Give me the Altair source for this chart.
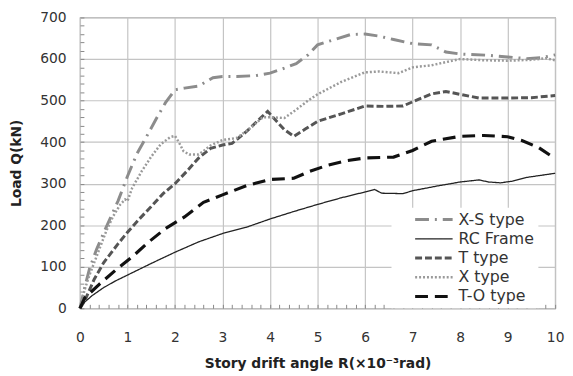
import altair as alt
import pandas as pd

series_names = ["X-S type", "RC Frame", "T type", "X type", "T-O type"]

xs_x = [0, 0.1, 0.2, 0.35, 0.5, 0.8, 1.0, 1.2, 1.4, 1.6, 1.8, 2.0, 2.2, 2.5, 2.8, 3.0, 3.3, 3.7, 4.0, 4.3, 4.55, 4.8, 5.0, 5.3, 5.7, 6.0, 6.3, 6.6, 7.0, 7.4, 7.7, 8.0, 8.6, 9.0, 9.4, 9.7, 10.0]
xs_y = [0, 50, 95, 142, 182, 258, 318, 372, 413, 455, 495, 526, 530, 535, 555, 558, 558, 560, 566, 578, 589, 610, 634, 645, 659, 660, 655, 647, 637, 634, 617, 612, 609, 605, 601, 603, 610]

rc_x = [0, 0.1, 0.25, 0.5, 0.75, 1.0, 1.5, 2.0, 2.5, 3.0, 3.5, 4.0, 4.5, 5.0, 5.5, 6.0, 6.2, 6.35, 6.8, 7.0, 7.5, 8.0, 8.4, 8.6, 8.85, 9.1, 9.4, 10.0]
rc_y = [0, 15, 30, 50, 66, 80, 108, 135, 160, 180, 195, 215, 233, 250, 266, 280, 286, 277, 276, 283, 294, 304, 309, 304, 302, 306, 315, 325]

t_x = [0, 0.1, 0.3, 0.5, 0.8, 1.0, 1.25, 1.5, 1.75, 2.0, 2.25, 2.5, 2.75, 3.0, 3.2, 3.5, 3.8, 3.95, 4.1, 4.3, 4.5, 4.75, 5.0, 5.5, 6.0, 6.4, 6.8, 7.0, 7.4, 7.7, 8.0, 8.4, 9.0, 9.5, 10.0]
t_y = [0, 18, 70, 110, 155, 183, 215, 245, 276, 300, 330, 362, 385, 393, 397, 425, 458, 474, 455, 430, 414, 432, 450, 468, 487, 486, 487, 497, 516, 522, 515, 506, 506, 507, 512]

x_x = [0, 0.1, 0.2, 0.4, 0.55, 0.7, 0.85, 0.95, 1.0, 1.1, 1.3, 1.5, 1.7, 1.9, 2.0, 2.08, 2.18, 2.3, 2.5, 2.75, 3.0, 3.3, 3.6, 3.85, 4.0, 4.3, 4.55, 4.8, 5.0, 5.5, 6.0, 6.3, 6.7, 7.0, 7.4, 8.0, 8.5, 9.0, 9.5, 9.8, 10.0]
x_y = [0, 45, 80, 140, 185, 222, 250, 262, 258, 290, 330, 365, 395, 412, 415, 400, 378, 370, 370, 392, 405, 410, 435, 460, 460, 458, 478, 500, 515, 545, 568, 570, 566, 580, 585, 600, 597, 596, 598, 602, 597]

to_x = [0, 0.1, 0.4, 0.75, 1.1, 1.45, 1.8, 2.2, 2.6, 3.0, 3.5, 4.0, 4.5, 4.8, 5.2, 5.6, 6.0, 6.6, 7.0, 7.4, 8.0, 8.5, 9.0, 9.3, 9.65, 9.9, 10.0]
to_y = [0, 25, 57, 92, 124, 160, 192, 220, 255, 273, 295, 310, 313, 328, 344, 355, 362, 364, 380, 402, 414, 416, 413, 404, 387, 368, 366]

series_data = {
    "X-S type": (xs_x, xs_y),
    "RC Frame": (rc_x, rc_y),
    "T type": (t_x, t_y),
    "X type": (x_x, x_y),
    "T-O type": (to_x, to_y),
}

rows = []
for name, (xv, yv) in series_data.items():
    for i, (a, b) in enumerate(zip(xv, yv)):
        rows.append({"series": name, "R": a, "Q": b, "order": i})
df = pd.DataFrame(rows)

x_ticks = [round(i * 0.2, 1) for i in range(51)]
y_ticks = [i * 20 for i in range(36)]

colors = ["#8c8c8c", "#222222", "#555555", "#9a9a9a", "#111111"]
dashes = [[14, 6, 2, 6], [1, 0], [7, 3], [2, 2], [13, 7]]
widths = [3, 1.3, 3, 2.5, 3.2]

legend = alt.Legend(
    orient="none", legendX=316, legendY=193, fillColor="white", padding=4,
    title=None, symbolType="M-3.8,0H3.8", symbolSize=100, symbolOffset=31,
    symbolFillColor="transparent",
    labelOffset=17, labelFontSize=16, labelColor="#333333", rowPadding=3.5,
    labelFont="DejaVu Sans",
)

xaxis = alt.Axis(
    values=x_ticks, title="Story drift angle R(×10⁻³rad)", domain=False,
    tickSize=4, offset=-4, tickColor="#888888", gridColor="#c4c4c4", gridWidth=1.2,
    gridOpacity={"condition": {"test": "abs(datum.value - round(datum.value)) > 0.01", "value": 0}, "value": 1},
    labelExpr="abs(datum.value - round(datum.value)) < 0.01 ? format(datum.value, 'd') : ''",
    labelFontSize=14, labelColor="#333333", labelPadding=23, titleFontSize=14,
    titleFontWeight="bold", titleColor="#222222", titlePadding=12, labelFlush=False,
    labelOverlap=False,
)
yaxis = alt.Axis(
    values=y_ticks, title="Load Q(kN)", domain=False,
    tickSize=4, offset=-4, tickColor="#888888", gridColor="#c4c4c4", gridWidth=1.2,
    gridOpacity={"condition": {"test": "datum.value % 100 != 0", "value": 0}, "value": 1},
    labelExpr="datum.value % 100 == 0 ? datum.label : ''",
    labelFontSize=14, labelColor="#333333", labelPadding=14, titleFontSize=14,
    titleFontWeight="bold", titleColor="#222222", titlePadding=17, labelOverlap=False,
)

chart = alt.Chart(df).mark_line(strokeCap="butt").encode(
    x=alt.X("R:Q", scale=alt.Scale(domain=[0, 10], nice=False), axis=xaxis),
    y=alt.Y("Q:Q", scale=alt.Scale(domain=[0, 700], nice=False), axis=yaxis),
    color=alt.Color("series:N", scale=alt.Scale(domain=series_names, range=colors), legend=legend),
    strokeDash=alt.StrokeDash("series:N", scale=alt.Scale(domain=series_names, range=dashes), legend=legend),
    strokeWidth=alt.StrokeWidth("series:N", scale=alt.Scale(type="ordinal", domain=series_names, range=widths), legend=legend),
    order="order:Q",
).properties(
    width=482, height=295,
    autosize=alt.AutoSizeParams(type="none"),
    padding={"left": 73, "top": 7, "right": 10, "bottom": 62},
).configure(
    font="DejaVu Sans",
).configure_view(
    stroke="#a8a8a8", strokeWidth=1.2,
)

chart.save("out.html", embed_options={"renderer": "svg", "actions": False})
